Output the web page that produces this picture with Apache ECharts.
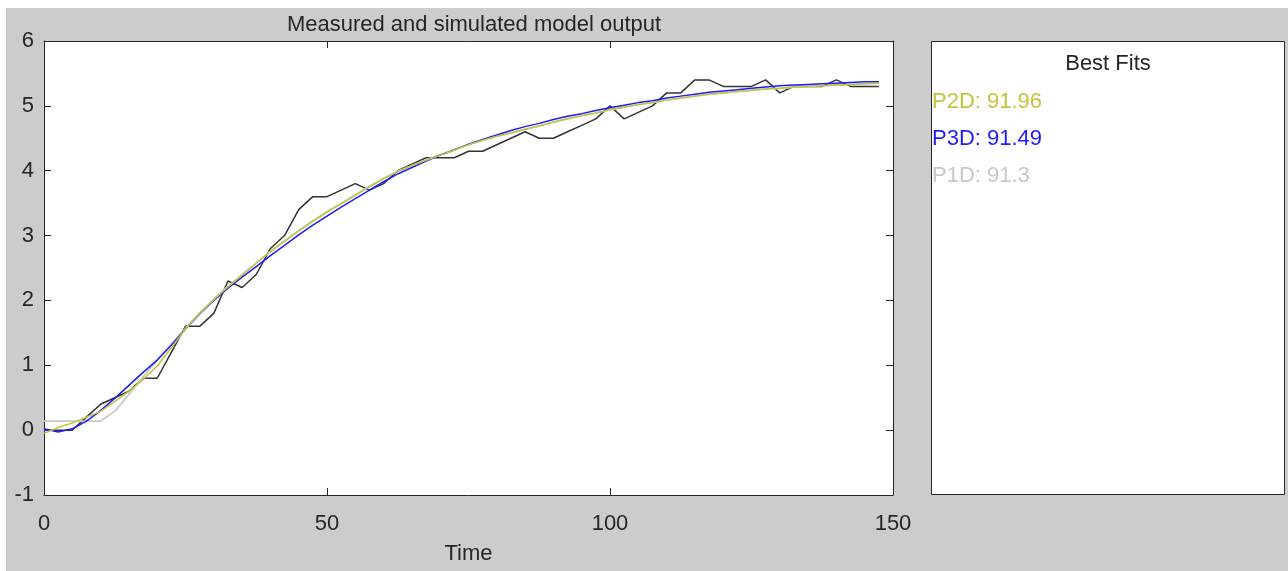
<!DOCTYPE html>
<html>
<head>
<meta charset="utf-8">
<script src="https://cdn.jsdelivr.net/npm/echarts@6/dist/echarts.min.js"></script>
<style>
  html, body { margin: 0; padding: 0; background: #ffffff; }
  #bg { position: absolute; left: 6px; top: 8px; width: 1282px; height: 563px; background: #cccccc; }
  #chart { position: absolute; left: 0; top: 0; width: 1288px; height: 571px; }
</style>
</head>
<body>
<div id="bg"></div>
<div id="chart"></div>
<script>
// ---- data ----
const titleText = 'Measured and simulated model output';
const xAxisName = 'Time';
const xTicks = [0, 50, 100, 150];
const yTicks = [-1, 0, 1, 2, 3, 4, 5, 6];

const times = [0, 2.5, 5, 7.5, 10, 12.5, 15, 17.5, 20, 22.5, 25, 27.5, 30, 32.5, 35, 37.5, 40, 42.5, 45, 47.5,
  50, 52.5, 55, 57.5, 60, 62.5, 65, 67.5, 70, 72.5, 75, 77.5, 80, 82.5, 85, 87.5, 90, 92.5, 95, 97.5,
  100, 102.5, 105, 107.5, 110, 112.5, 115, 117.5, 120, 122.5, 125, 127.5, 130, 132.5, 135, 137.5, 140, 142.5, 145, 147.5];

const measured = [0, 0, 0, 0.2, 0.4, 0.5, 0.6, 0.8, 0.8, 1.2, 1.6, 1.6, 1.8, 2.3, 2.2, 2.4, 2.8, 3.0, 3.4, 3.6,
  3.6, 3.7, 3.8, 3.7, 3.8, 4.0, 4.1, 4.2, 4.2, 4.2, 4.3, 4.3, 4.4, 4.5, 4.6, 4.5, 4.5, 4.6, 4.7, 4.8,
  5.0, 4.8, 4.9, 5.0, 5.2, 5.2, 5.4, 5.4, 5.3, 5.3, 5.3, 5.4, 5.2, 5.3, 5.3, 5.3, 5.4, 5.3, 5.3, 5.3];

const p2d = [-0.05, 0.04, 0.11, 0.20, 0.29, 0.44, 0.60, 0.78, 0.99, 1.27, 1.56, 1.80, 2.01, 2.21, 2.39, 2.57, 2.75, 2.91, 3.07, 3.22,
  3.36, 3.49, 3.62, 3.75, 3.88, 3.99, 4.08, 4.16, 4.24, 4.32, 4.40, 4.47, 4.53, 4.58, 4.64, 4.69, 4.75, 4.80, 4.85, 4.89,
  4.94, 4.98, 5.02, 5.05, 5.09, 5.12, 5.15, 5.18, 5.20, 5.22, 5.24, 5.26, 5.27, 5.29, 5.30, 5.31, 5.32, 5.33, 5.34, 5.35];

const p3d = [0.02, -0.03, 0.02, 0.14, 0.30, 0.49, 0.69, 0.89, 1.08, 1.31, 1.56, 1.79, 2.00, 2.19, 2.36, 2.52, 2.69, 2.85, 3.01, 3.16,
  3.30, 3.44, 3.57, 3.70, 3.83, 3.95, 4.05, 4.15, 4.24, 4.32, 4.41, 4.48, 4.55, 4.62, 4.68, 4.73, 4.79, 4.84, 4.88, 4.93,
  4.97, 5.01, 5.05, 5.08, 5.12, 5.15, 5.18, 5.21, 5.23, 5.25, 5.27, 5.29, 5.31, 5.32, 5.33, 5.34, 5.35, 5.36, 5.37, 5.37];

const p1d = [0.14, 0.14, 0.14, 0.14, 0.14, 0.29, 0.55, 0.82, 1.08, 1.33, 1.57, 1.81, 2.02, 2.22, 2.40, 2.58, 2.76, 2.92, 3.08, 3.23,
  3.37, 3.50, 3.63, 3.76, 3.88, 3.99, 4.08, 4.17, 4.25, 4.33, 4.40, 4.47, 4.53, 4.58, 4.64, 4.69, 4.75, 4.80, 4.85, 4.89,
  4.94, 4.98, 5.02, 5.05, 5.09, 5.12, 5.15, 5.18, 5.20, 5.22, 5.24, 5.26, 5.27, 5.29, 5.30, 5.31, 5.32, 5.33, 5.34, 5.35];

const fitNames = ['P2D', 'P3D', 'P1D'];
const fitScores = ['91.96', '91.49', '91.3'];
const fitColors = ['#c4c43c', '#1c1cff', '#c8c8c8'];
const panelTitle = 'Best Fits';

// ---- build ----
const FONT = '"Liberation Sans", Arial, sans-serif';
const FS = 22;
const TXT = '#262626';
const pairs = ys => times.map((t, i) => [t, ys[i]]);

const chart = echarts.init(document.getElementById('chart'), null, { renderer: 'canvas' });

const axisCommon = {
  type: 'value',
  axisLine: { show: true, onZero: false, lineStyle: { color: TXT, width: 1 } },
  axisTick: { show: true, inside: true, length: 7, lineStyle: { color: TXT, width: 1 } },
  splitLine: { show: false }
};

const legendTexts = fitNames.map((n, i) => ({
  type: 'text',
  x: 932,
  y: 102 + i * 37.2,
  style: { text: n + ': ' + fitScores[i], fill: fitColors[i], font: FS + 'px ' + FONT,
           align: 'left', verticalAlign: 'middle' }
}));

chart.setOption({
  animation: false,
  title: {
    text: titleText,
    left: 469,
    top: 9,
    textAlign: 'center',
    textStyle: { fontFamily: FONT, fontSize: FS, fontWeight: 'normal', color: TXT }
  },
  grid: { left: 44, top: 41, width: 849, height: 454, show: true, backgroundColor: '#ffffff', borderWidth: 0 },
  xAxis: [
    Object.assign({}, axisCommon, {
      position: 'bottom', min: xTicks[0], max: xTicks[xTicks.length - 1], interval: 50,
      axisLabel: { fontFamily: FONT, fontSize: FS, color: TXT, margin: 18 },
      name: xAxisName, nameLocation: 'middle', nameGap: 48,
      nameTextStyle: { fontFamily: FONT, fontSize: FS, color: TXT }
    }),
    Object.assign({}, axisCommon, {
      position: 'top', min: xTicks[0], max: xTicks[xTicks.length - 1], interval: 50,
      axisLabel: { show: false }
    })
  ],
  yAxis: [
    Object.assign({}, axisCommon, {
      position: 'left', min: yTicks[0], max: yTicks[yTicks.length - 1], interval: 1,
      axisLabel: { fontFamily: FONT, fontSize: FS, color: TXT, margin: 10 }
    }),
    Object.assign({}, axisCommon, {
      position: 'right', min: yTicks[0], max: yTicks[yTicks.length - 1], interval: 1,
      axisLabel: { show: false }
    })
  ],
  series: [
    { name: 'Measured', type: 'line', data: pairs(measured), showSymbol: false, z: 2,
      lineStyle: { color: '#333333', width: 1.5 } },
    { name: 'P1D', type: 'line', data: pairs(p1d), showSymbol: false, z: 3,
      lineStyle: { color: fitColors[2], width: 1.7 } },
    { name: 'P3D', type: 'line', data: pairs(p3d), showSymbol: false, z: 4,
      lineStyle: { color: fitColors[1], width: 1.5 } },
    { name: 'P2D', type: 'line', data: pairs(p2d), showSymbol: false, z: 5,
      lineStyle: { color: fitColors[0], width: 1.5 } }
  ],
  graphic: [
    { type: 'rect', shape: { x: 931.5, y: 41.5, width: 353, height: 453 },
      style: { fill: '#ffffff', stroke: TXT, lineWidth: 1 } },
    { type: 'text', x: 1108, y: 64,
      style: { text: panelTitle, fill: TXT, font: FS + 'px ' + FONT, align: 'center', verticalAlign: 'middle' } }
  ].concat(legendTexts)
});
</script>
</body>
</html>
